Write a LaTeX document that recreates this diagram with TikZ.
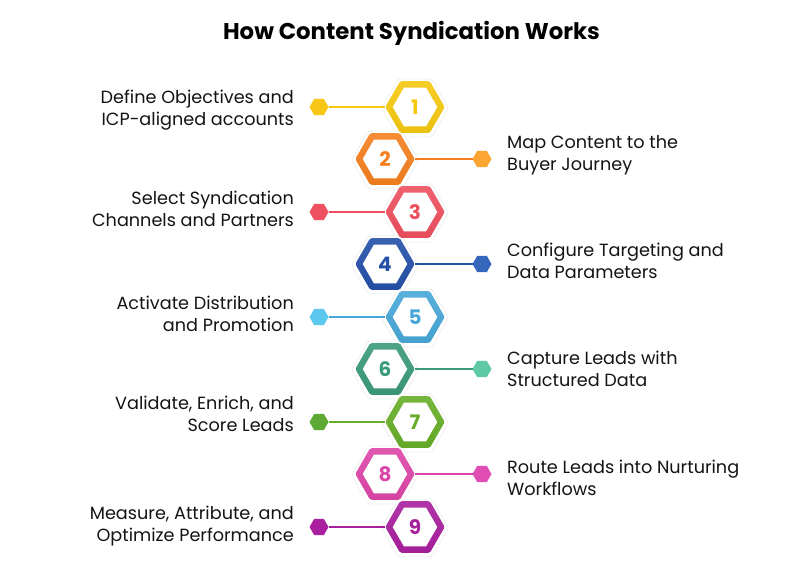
\documentclass[tikz,border=0pt]{standalone}
\usepackage{fontspec}
\setmainfont{Poppins}
\usetikzlibrary{shapes.geometric,calc}
\tikzset{
  x=1pt,y=-1pt,
  hexbase/.style={regular polygon,regular polygon sides=6,inner sep=0pt,outer sep=0pt},
  halo/.style={hexbase,minimum size=67pt,fill=white,draw=black!6,line width=.8pt,rounded corners=2.5pt},
  ring/.style={hexbase,minimum size=59.5pt,rounded corners=1.5pt,top color=#1!90!white,bottom color=#1!96!black},
  core/.style={hexbase,minimum size=44.5pt,fill=white,text=#1,font=\fontsize{20pt}{20pt}\selectfont\bfseries},
  dot/.style={hexbase,minimum size=19pt,fill=#1},
  link/.style={draw=#1,line width=1.5pt},
  lab/.style={font=\fontsize{17.65pt}{22.3pt}\selectfont,text=black!92,inner sep=0pt},
  labl/.style={lab,anchor=east,align=right},
  labr/.style={lab,anchor=west,align=left},
}
\definecolor{cA}{HTML}{F5C80F}
\definecolor{cB}{HTML}{F57F1E}
\definecolor{cC}{HTML}{EE4F5E}
\definecolor{cD}{HTML}{2450A8}
\definecolor{cE}{HTML}{47A7D8}
\definecolor{cF}{HTML}{3A9A78}
\definecolor{cG}{HTML}{66AE28}
\definecolor{cH}{HTML}{DD46A8}
\definecolor{cI}{HTML}{A81F9E}
\definecolor{dA}{HTML}{F7C616}
\definecolor{dB}{HTML}{FBA632}
\definecolor{dC}{HTML}{EE5261}
\definecolor{dD}{HTML}{3567BC}
\definecolor{dE}{HTML}{5CC8EE}
\definecolor{dF}{HTML}{5FC9A5}
\definecolor{dG}{HTML}{5DA933}
\definecolor{dH}{HTML}{E04DB4}
\definecolor{dI}{HTML}{AA1FA0}
\begin{document}
\begin{tikzpicture}
\useasboundingbox (0,0) rectangle (800,587);
\fill[white] (0,0) rectangle (800,587);
\node[font=\fontsize{22.8pt}{24pt}\selectfont\bfseries,inner sep=0pt] (title) at (411.5,33) {How Content Syndication Works};
\foreach \n/\yy/\c/\d in {9/527/cI/dI,7/422/cG/dG,5/317/cE/dE,3/212/cC/dC,1/107/cA/dA}{
  \node[dot=\d] (d\n) at (319,\yy) {};
  \node[halo] (h\n) at (415,\yy+1) {};
}
\foreach \n/\yy/\c/\d in {8/474/cH/dH,6/369/cF/dF,4/264/cD/dD,2/159/cB/dB}{
  \node[dot=\d] (d\n) at (482,\yy) {};
  \node[halo] (h\n) at (385,\yy+1) {};
}
\foreach \n/\yy/\c/\d in {9/527/cI/dI,7/422/cG/dG,5/317/cE/dE,3/212/cC/dC,1/107/cA/dA}{
  \node[ring=\c] (r\n) at (415,\yy) {};
  \node[core=\c] (n\n) at (415,\yy) {\n};
  \draw[link=\c] (d\n) -- (r\n);
}
\foreach \n/\yy/\c/\d in {8/474/cH/dH,6/369/cF/dF,4/264/cD/dD,2/159/cB/dB}{
  \node[ring=\c] (r\n) at (385,\yy) {};
  \node[core=\c] (n\n) at (385,\yy) {\n};
  \draw[link=\c] (r\n) -- (d\n);
}
\node[labl] (t1) at (294,110) {Define Objectives and\\ICP-aligned accounts};
\node[labr] (t2) at (507,155) {Map Content to the\\Buyer Journey};
\node[labl] (t3) at (294,209) {Select Syndication\\Channels and Partners};
\node[labr] (t4) at (507,261) {Configure Targeting and\\Data Parameters};
\node[labl] (t5) at (294,314) {Activate Distribution\\and Promotion};
\node[labr] (t6) at (507,369) {Capture Leads with\\Structured Data};
\node[labl] (t7) at (294,414) {Validate, Enrich, and\\Score Leads};
\node[labr] (t8) at (507,478) {Route Leads into Nurturing\\Workflows};
\node[labl] (t9) at (294,526) {Measure, Attribute, and\\Optimize Performance};
\end{tikzpicture}
\end{document}
